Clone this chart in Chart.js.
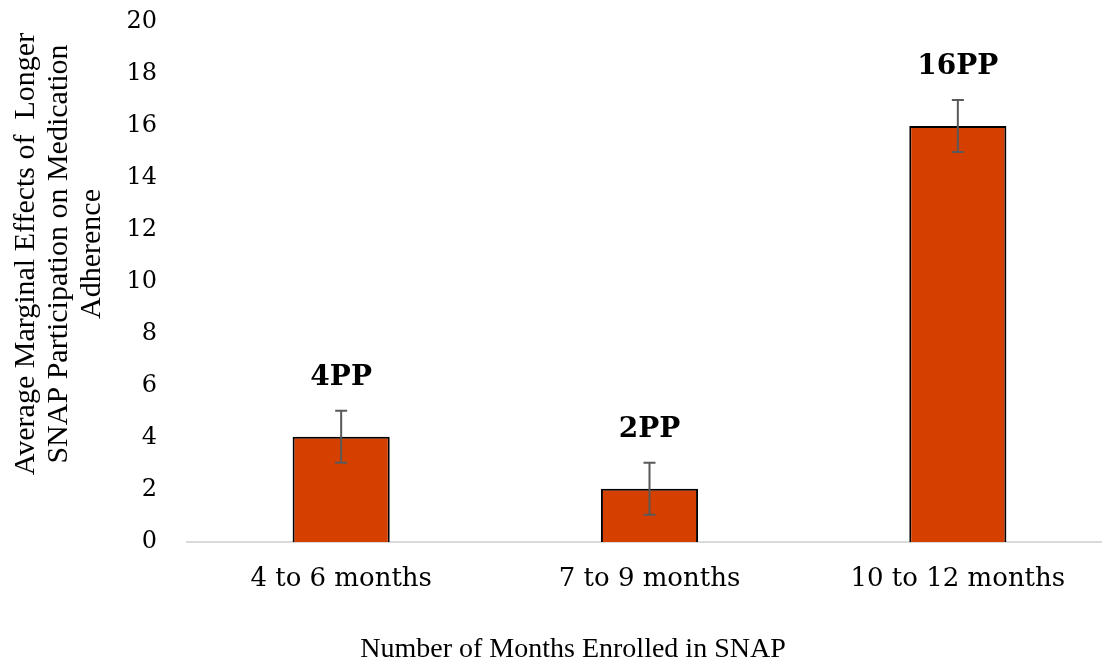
<!DOCTYPE html>
<html>
<head>
<meta charset="utf-8">
<script src="https://cdn.jsdelivr.net/npm/chart.js@4"></script>
<style>
    html, body { margin: 0; padding: 0; background: #fff; overflow: hidden; }
    #wrap { width: 1112px; height: 665px; }
</style>
</head>
<body>
<div id="wrap"><canvas id="snap_chart"></canvas></div>
<script>
/* global Chart */
"use strict";

const categories = ["4 to 6 months", "7 to 9 months", "10 to 12 months"];
const effects = [4.05, 2.05, 16.0];
const errors = [1.0, 1.0, 1.0];
const value_labels = ["4PP", "2PP", "16PP"];
const y_ticks = [0, 2, 4, 6, 8, 10, 12, 14, 16, 18, 20];
const y_title = [
    "Average Marginal Effects of  Longer",
    "SNAP Participation on Medication",
    "Adherence",
];
const x_title = "Number of Months Enrolled in SNAP";

const snap_chart = document.getElementById("snap_chart");

// error bars + bold labels on top, plus the two axis titles
const barExtras = {
    id: "barExtras",
    afterDatasetsDraw(chart) {
        const ctx = chart.ctx;
        const y = chart.scales.y;
        const meta = chart.getDatasetMeta(0);
        ctx.save();
        meta.data.forEach((bar, i) => {
            const top = y.getPixelForValue(effects[i] + errors[i]);
            const bottom = y.getPixelForValue(effects[i] - errors[i]);
            ctx.strokeStyle = "#595959";
            ctx.lineWidth = 2;
            ctx.beginPath();
            ctx.moveTo(bar.x, top);
            ctx.lineTo(bar.x, bottom);
            ctx.moveTo(bar.x - 6, top);
            ctx.lineTo(bar.x + 6, top);
            ctx.moveTo(bar.x - 6, bottom);
            ctx.lineTo(bar.x + 6, bottom);
            ctx.stroke();

            ctx.fillStyle = "#000";
            ctx.font = "bold 28px 'DejaVu Serif'";
            ctx.textAlign = "center";
            ctx.textBaseline = "middle";
            ctx.fillText(value_labels[i], bar.x, top - 33);
        });
        ctx.restore();
    },
    afterDraw(chart) {
        const ctx = chart.ctx;
        ctx.save();
        ctx.fillStyle = "#000";
        ctx.textAlign = "center";
        ctx.textBaseline = "middle";
        ctx.font = "30px 'Liberation Serif'";
        y_title.forEach((line, i) => {
            ctx.save();
            ctx.translate(26 + i * 33, 254);
            ctx.rotate(-Math.PI / 2);
            ctx.fillText(line, 0, 0);
            ctx.restore();
        });
        ctx.font = "28px 'Liberation Serif'";
        ctx.fillText(x_title, 573, 650);
        ctx.restore();
    },
};

new Chart(snap_chart, {
    type: "bar",
    data: {
        labels: categories,
        datasets: [
            {
                data: effects,
                backgroundColor: "#D54000",
                borderColor: "#000",
                borderWidth: 2,
                barPercentage: 0.63,
                categoryPercentage: 0.5,
            },
        ],
    },
    options: {
        responsive: true,
        maintainAspectRatio: false,
        animation: false,
        layout: { padding: { top: 22, right: 0, left: 0, bottom: 0 } },
        plugins: {
            legend: { display: false },
            tooltip: { enabled: false },
        },
        scales: {
            x: {
                grid: { display: false, drawTicks: false },
                border: { display: true, color: "#d9d9d9", width: 2 },
                ticks: {
                    color: "#000",
                    font: { family: "DejaVu Serif", size: 26 },
                    padding: 22,
                },
                afterFit(scale) {
                    scale.height = 123;
                    scale.paddingLeft = 0;
                    scale.paddingRight = 0;
                },
            },
            y: {
                min: 0,
                max: 20,
                afterBuildTicks(scale) {
                    scale.ticks = y_ticks.map((v) => ({ value: v }));
                },
                grid: { display: false, drawTicks: false },
                border: { display: false },
                ticks: {
                    color: "#000",
                    font: { family: "DejaVu Serif", size: 24 },
                    padding: 30,
                },
                afterFit(scale) {
                    scale.width = 187;
                    scale.paddingTop = 0;
                    scale.paddingBottom = 0;
                },
            },
        },
    },
    plugins: [barExtras],
});
</script>
</body>
</html>
